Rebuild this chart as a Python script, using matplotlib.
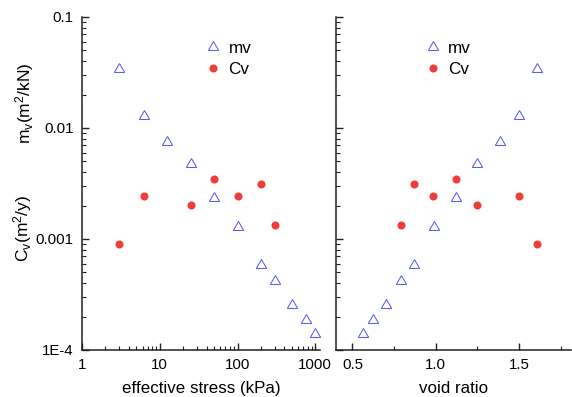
import numpy as np
import matplotlib
matplotlib.use("Agg")
import matplotlib.pyplot as plt
from matplotlib.ticker import FixedLocator, FixedFormatter, LogLocator, NullFormatter

plt.rcParams['font.family'] = ['Liberation Sans', 'DejaVu Sans']
plt.rcParams['mathtext.fontset'] = 'custom'
plt.rcParams['mathtext.rm'] = 'Liberation Sans'
plt.rcParams['mathtext.it'] = 'Liberation Sans'

# consolidation test results
stress = np.array([3, 6.25, 12.5, 25, 50, 100, 200, 300, 500, 750, 1000])  # kPa
void = np.array([1.608, 1.50, 1.386, 1.249, 1.119, 0.987, 0.871, 0.792, 0.704, 0.622, 0.566])
mv = np.array([0.0338, 0.0129, 0.0074, 0.0047, 0.00234, 0.00128, 0.00058, 0.00042,
               0.000254, 0.000185, 0.000139])

cv_stress = np.array([3, 6.25, 25, 50, 100, 200, 300])
cv_void = np.array([1.606, 1.50, 1.247, 1.119, 0.985, 0.869, 0.79])
cv = np.array([0.00091, 0.00244, 0.00204, 0.00345, 0.00245, 0.00311, 0.00133])

y_ticks = [1e-4, 1e-3, 1e-2, 1e-1]
y_labels = ['1E-4', '0.001', '0.01', '0.1']
x_ticks = [1, 10, 100, 1000]
x_labels = ['1', '10', '100', '1000']

blue = '#5c5cff'
red = '#f03b3b'
spine_c = '#222222'

fig = plt.figure(figsize=(5.72, 3.97), dpi=100)
ax1 = fig.add_axes([0.1434, 0.1184, 0.416, 0.839])
ax2 = fig.add_axes([0.587, 0.1184, 0.411, 0.839])

tri = (3, 0, 0)
for ax, xm, xc in [(ax1, stress, cv_stress), (ax2, void, cv_void)]:
    ax.plot(xm, mv, linestyle='none', marker=tri, markersize=8.6, markerfacecolor='none',
            markeredgecolor=blue, markeredgewidth=0.75, label='mv', clip_on=False)
    ax.plot(xc, cv, linestyle='none', marker='o', markersize=5.8, color=red,
            markeredgewidth=0, label='Cv', clip_on=False)
    ax.set_yscale('log')
    ax.set_ylim(1e-4, 0.1)
    ax.yaxis.set_major_locator(FixedLocator(y_ticks))
    ax.yaxis.set_minor_locator(LogLocator(base=10, subs=np.arange(2, 10)))
    ax.yaxis.set_minor_formatter(NullFormatter())
    for s in ['top', 'right']:
        ax.spines[s].set_visible(False)
    for s in ['left', 'bottom']:
        ax.spines[s].set_linewidth(1.1)
        ax.spines[s].set_color(spine_c)
    ax.tick_params(which='major', direction='in', length=5, width=1, color=spine_c,
                   labelsize=10.8, pad=6)
    ax.tick_params(which='minor', direction='in', length=3, width=0.8, color=spine_c)
    ax.legend(loc='upper left', frameon=False, fontsize=12.3, handlelength=0.9,
              handletextpad=0.45, labelspacing=0.32, borderpad=0, borderaxespad=0,
              bbox_to_anchor=(0.519 if ax is ax1 else 0.381, 0.927))

ax1.set_xscale('log')
ax1.set_xlim(1, 1150)
ax1.xaxis.set_major_locator(FixedLocator(x_ticks))
ax1.xaxis.set_major_formatter(FixedFormatter(x_labels))
ax1.xaxis.set_minor_locator(LogLocator(base=10, subs=np.arange(2, 10)))
ax1.xaxis.set_minor_formatter(NullFormatter())
ax1.yaxis.set_major_formatter(FixedFormatter(y_labels))
ax1.set_xlabel('effective stress (kPa)', fontsize=12.2, labelpad=6)

ax2.set_xlim(0.4, 1.81)
ax2.xaxis.set_major_locator(FixedLocator([0.5, 1.0, 1.5]))
ax2.xaxis.set_major_formatter(FixedFormatter(['0.5', '1.0', '1.5']))
ax2.xaxis.set_minor_locator(FixedLocator([0.75, 1.25, 1.75]))
ax2.yaxis.set_major_formatter(NullFormatter())
ax2.set_xlabel('void ratio', fontsize=12.2, labelpad=6)

fig.text(25 / 572, 1 - 103 / 397, r'm$_\mathregular{v}$(m$^\mathregular{2}$/kN)', rotation=90,
         ha='center', va='center', fontsize=12.5)
fig.text(23 / 572, 1 - 228 / 397, r'C$_\mathregular{v}$(m$^\mathregular{2}$/y)', rotation=90,
         ha='center', va='center', fontsize=12.5)

fig.savefig('out.png', dpi=100)
